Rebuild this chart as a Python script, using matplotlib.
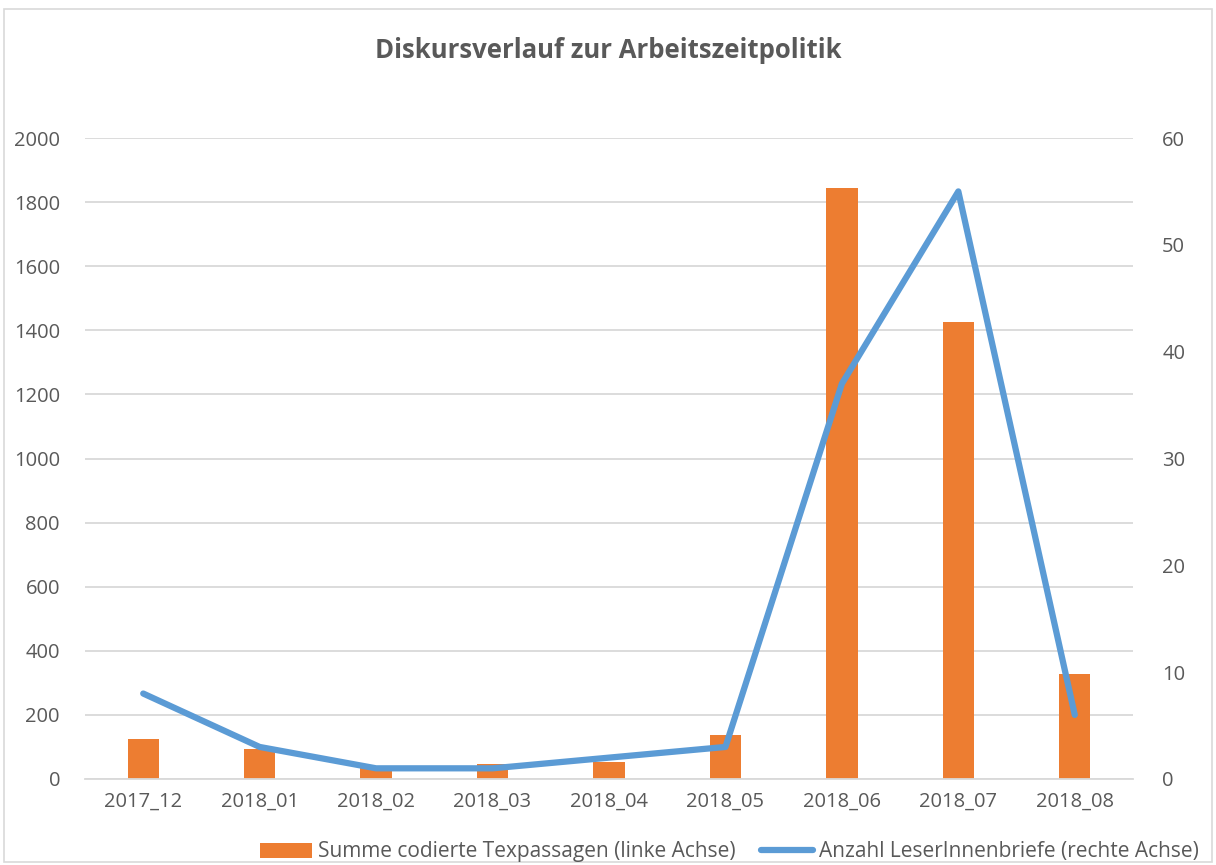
import numpy as np
import matplotlib.pyplot as plt
from matplotlib.patches import Rectangle

plt.rcParams['font.family'] = ['Open Sans', 'DejaVu Sans']

monate = ['2017_12', '2018_01', '2018_02', '2018_03', '2018_04',
          '2018_05', '2018_06', '2018_07', '2018_08']
textpassagen = [125, 94, 38, 47, 53, 137, 1844, 1426, 327]   # linke Achse
leserbriefe = [8, 3, 1, 1, 2, 3, 37, 55, 6]                  # rechte Achse

orange = '#ED7D31'
blau = '#5B9BD5'
grau = '#595959'

fig = plt.figure(figsize=(12.16, 8.65), dpi=100)
# Rahmen des Diagrammbereichs
fig.patches.append(Rectangle((0.003, 0.004), 0.994, 0.986, transform=fig.transFigure,
                             fill=False, edgecolor='#D9D9D9', lw=1.2))

ax = fig.add_axes([85 / 1216, 1 - 779 / 865, 1048 / 1216, 641 / 865])
ax2 = ax.twinx()

x = np.arange(len(monate))
ax.bar(x, textpassagen, width=0.27, color=orange, zorder=2,
       label='Summe codierte Texpassagen (linke Achse)')
ax2.plot(x, leserbriefe, color=blau, lw=4.5, solid_capstyle='round',
         solid_joinstyle='round', label='Anzahl LeserInnenbriefe (rechte Achse)')

ax.set_xlim(-0.5, len(monate) - 0.5)
ax.set_ylim(0, 2000)
ax.set_yticks(np.arange(0, 2001, 200))
ax2.set_ylim(0, 60)
ax2.set_yticks(np.arange(0, 61, 10))
ax.set_xticks(x)
ax.set_xticklabels(monate)

ax.grid(axis='y', color='#D9D9D9', lw=1.3, zorder=0)
ax.set_axisbelow(True)
for a in (ax, ax2):
    for s in a.spines.values():
        s.set_visible(False)
    a.tick_params(length=0, labelsize=14.5, labelcolor=grau)
ax.spines['bottom'].set_visible(True)
ax.spines['bottom'].set_color('#D9D9D9')
ax.spines['bottom'].set_linewidth(1.3)
ax.tick_params(axis='y', pad=18)
ax2.tick_params(axis='y', pad=21)
ax.tick_params(axis='x', pad=9)

fig.text(0.5, 1 - 51 / 865, 'Diskursverlauf zur Arbeitszeitpolitik', ha='center', va='center',
         fontsize=18.5, fontweight='bold', color=grau)

h1, l1 = ax.get_legend_handles_labels()
h2, l2 = ax2.get_legend_handles_labels()
fig.legend(h1 + h2, l1 + l2, loc='center', bbox_to_anchor=(0.600, 1 - 852 / 865), ncol=2,
           frameon=False, fontsize=15, labelcolor=grau, handlelength=2.5,
           handletextpad=0.3, columnspacing=1.2)

fig.savefig('out.png', dpi=100)
